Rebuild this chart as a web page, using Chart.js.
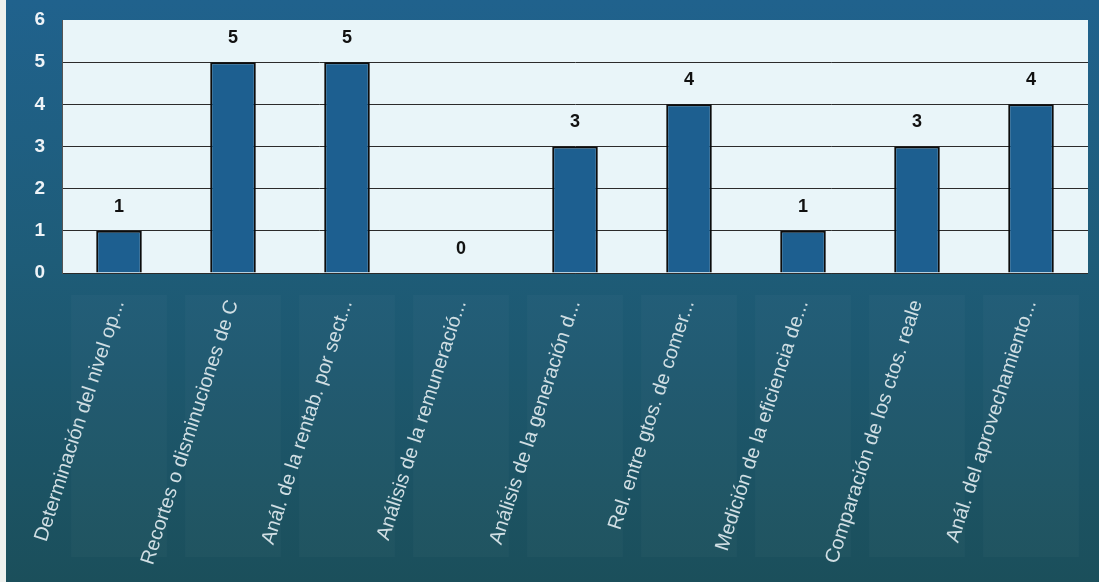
<!DOCTYPE html>
<html>
<head>
<meta charset="utf-8">
<script src="https://cdn.jsdelivr.net/npm/chart.js@4.4.1/dist/chart.umd.min.js"></script>
<style>
  html, body { margin: 0; padding: 0; background: #ffffff; }
  #caja { width: 1099px; height: 582px; }
</style>
</head>
<body>
<div id="caja"><canvas id="grafico" width="1099" height="582"></canvas></div>
<script>
// Técnicas de análisis de costos: cantidad de respuestas
var categorias = [
    'Determinación del nivel op...',
    'Recortes o disminuciones de C',
    'Anál. de la rentab. por sect...',
    'Análisis de la remuneració...',
    'Análisis de la generación d...',
    'Rel. entre gtos. de comer...',
    'Medición de la eficiencia de...',
    'Comparación de los ctos. reale',
    'Anál. del aprovechamiento...'
];
var respuestas = [1, 5, 5, 0, 3, 4, 1, 3, 4];
var escalaMin = 0;
var escalaMax = 6;
var escalaPaso = 1;

// fondo degradado, franja clara a la izquierda y área de trazado clara
var fondo = {
    id: 'fondo',
    beforeDraw: function (chart) {
        var ctx = chart.ctx;
        var a = chart.chartArea;
        var g = ctx.createLinearGradient(0, 0, 0, chart.height);
        g.addColorStop(0, '#20628d');
        g.addColorStop(0.45, '#1e5c78');
        g.addColorStop(1, '#1b4f5b');
        ctx.save();
        ctx.fillStyle = g;
        ctx.fillRect(0, 0, chart.width, chart.height);

        // bloques suaves detrás de cada etiqueta
        var x = chart.scales.x;
        var paso = (a.right - a.left) / categorias.length;
        ctx.fillStyle = 'rgba(255,255,255,0.025)';
        for (var i = 0; i < categorias.length; i++) {
            var cx = x.getPixelForValue(i);
            ctx.fillRect(cx - paso * 0.42, a.bottom + 22, paso * 0.84, 262);
        }

        ctx.fillStyle = '#eef1ee';
        ctx.fillRect(0, 0, 6, chart.height);
        ctx.fillStyle = '#e9f5f9';
        ctx.fillRect(a.left, a.top, a.right - a.left, a.bottom - a.top);
        ctx.restore();
    }
};

// número encima de cada barra
var rotulos = {
    id: 'rotulos',
    afterDatasetsDraw: function (chart) {
        var ctx = chart.ctx;
        var meta = chart.getDatasetMeta(0);
        ctx.save();
        ctx.fillStyle = '#111111';
        ctx.font = 'bold 18px "Liberation Sans", Arial, sans-serif';
        ctx.textAlign = 'center';
        ctx.textBaseline = 'middle';
        meta.data.forEach(function (bar, i) {
            ctx.fillText(String(respuestas[i]), bar.x, bar.y - 24);
        });
        ctx.restore();
    }
};

var ctx = document.getElementById('grafico').getContext('2d');
var grafico = new Chart(ctx, {
    type: 'bar',
    data: {
        labels: categorias,
        datasets: [{
            data: respuestas,
            backgroundColor: '#1d5f90',
            borderColor: '#0c0c0c',
            borderWidth: 2,
            categoryPercentage: 1,
            barPercentage: 0.4
        }]
    },
    options: {
        responsive: false,
        animation: false,
        devicePixelRatio: 1,
        layout: { padding: { top: 20, right: 11, left: 0, bottom: 0 } },
        plugins: {
            legend: { display: false },
            tooltip: { enabled: false }
        },
        scales: {
            x: {
                grid: { display: false },
                border: { display: false },
                ticks: {
                    color: '#d0dee3',
                    font: { family: '"Liberation Sans", Arial, sans-serif', size: 20 },
                    autoSkip: false,
                    minRotation: 72,
                    maxRotation: 72,
                    padding: 16
                },
                afterFit: function (scale) {
                    scale.height = 309;
                    scale.paddingLeft = 0;
                    scale.paddingRight = 0;
                }
            },
            y: {
                min: escalaMin,
                max: escalaMax,
                ticks: {
                    stepSize: escalaPaso,
                    color: '#eef3f7',
                    font: { family: '"Liberation Sans", Arial, sans-serif', size: 19, weight: 'bold' },
                    padding: 17
                },
                grid: {
                    drawTicks: false,
                    lineWidth: 1,
                    color: function (c) {
                        return c.tick && c.tick.value === escalaMax ? 'rgba(0,0,0,0)' : '#2b2b2b';
                    }
                },
                border: { display: true, color: '#555555' },
                afterFit: function (scale) {
                    scale.width = 62;
                    scale.paddingTop = 0;
                    scale.paddingBottom = 0;
                }
            }
        }
    },
    plugins: [fondo, rotulos]
});
</script>
</body>
</html>
